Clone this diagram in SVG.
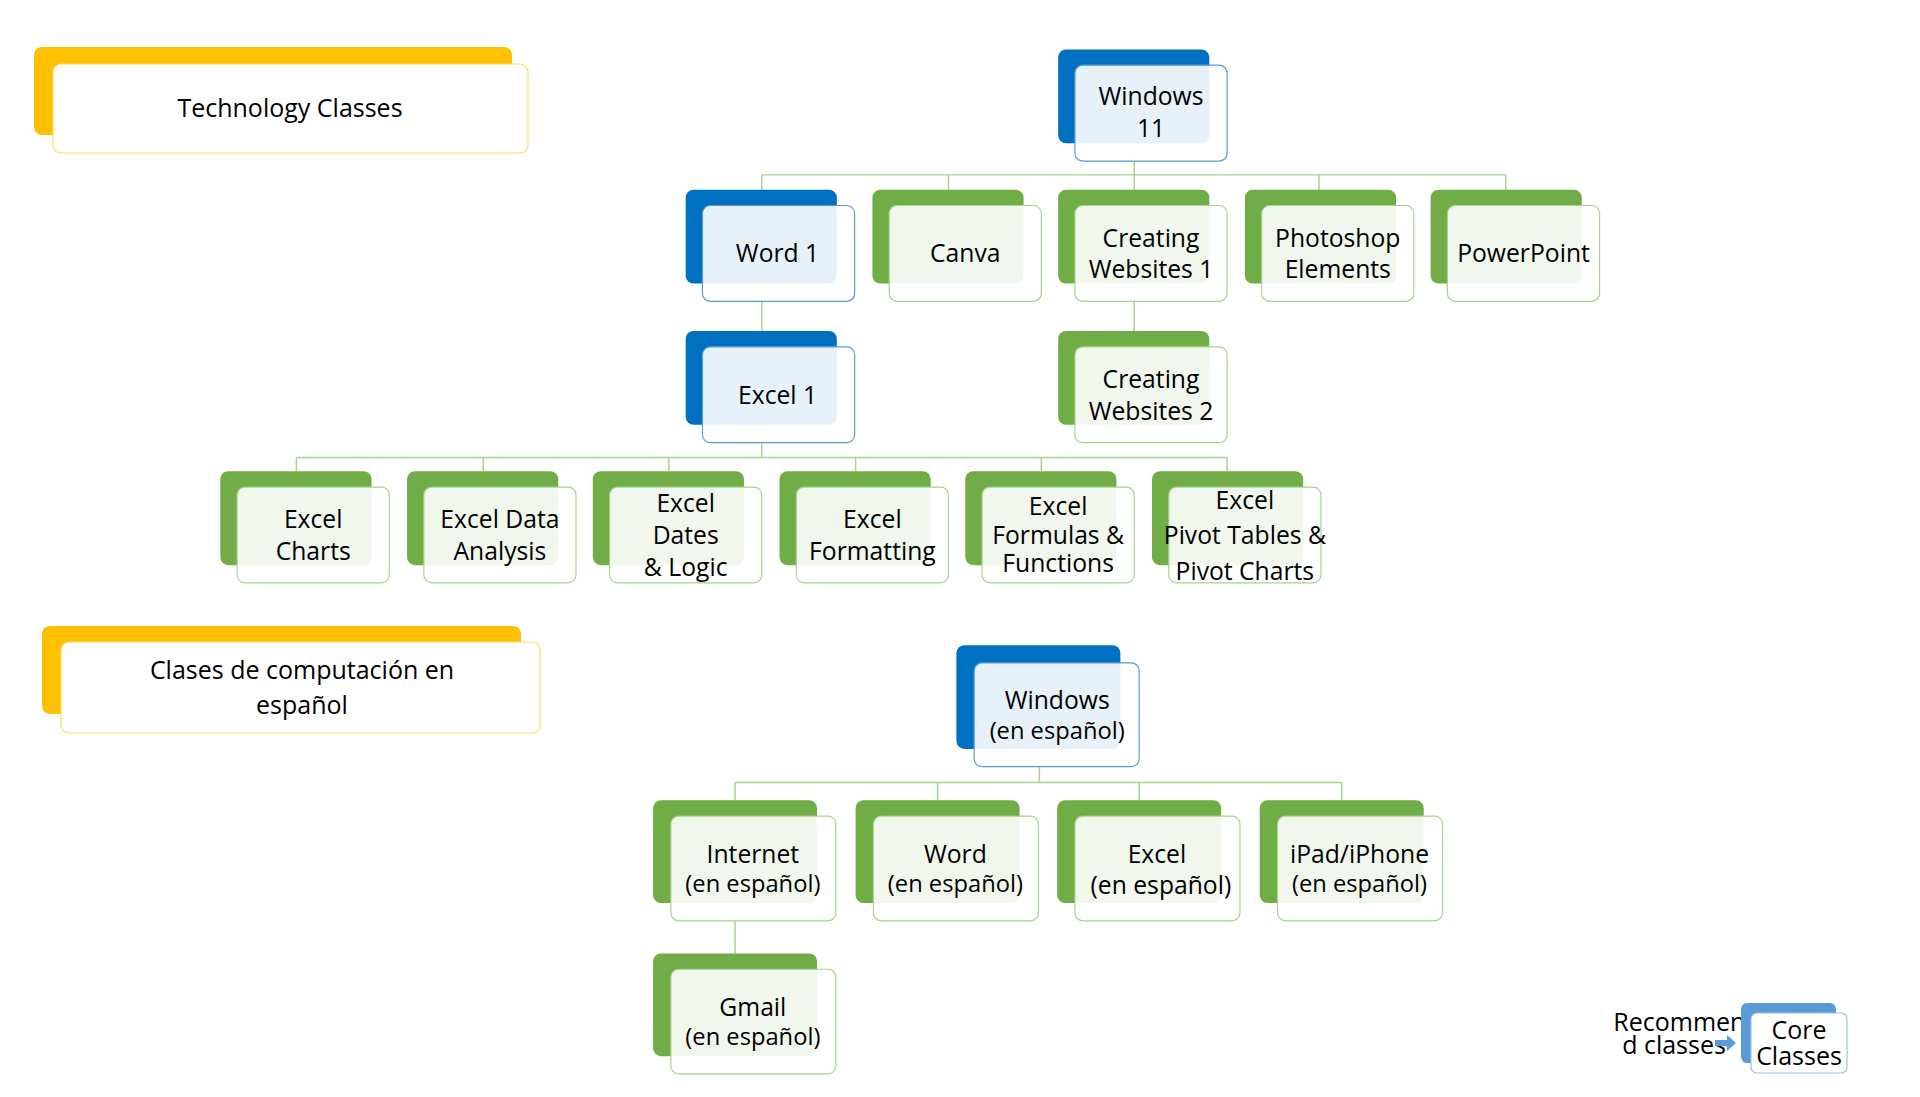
<svg xmlns="http://www.w3.org/2000/svg" width="1920" height="1097" viewBox="0 0 1920 1097">
<style>
text{font-family:"Open Sans","Noto Sans","Liberation Sans",sans-serif;fill:#000;text-anchor:middle;dominant-baseline:central;font-size:25px}
.bb{fill:#0070c0}.gb{fill:#70ad47}.yb{fill:#ffc000}
.bf{fill:#fff;fill-opacity:.9;stroke:#5b9bd5;stroke-width:1.2}
.gf{fill:#fff;fill-opacity:.9;stroke:#a9d18e;stroke-width:1.2}
.yf{fill:#fff;stroke:#ffd966;stroke-width:1.2}
.c{fill:none;stroke:#a9d18e;stroke-width:1.5}
.s{font-size:24px}
</style>
<g id="hdr-tech"><rect class="yb" x="34" y="47" width="478" height="88" rx="8"/><rect class="yf" x="53" y="64" width="475" height="89" rx="8"/><text x="290" y="107" font-size="31">Technology Classes</text></g>
<g id="hdr-es"><rect class="yb" x="42" y="626" width="479" height="88" rx="8"/><rect class="yf" x="61" y="642" width="479" height="91" rx="8"/><text x="302" y="669" font-size="35">Clases de computación en</text><text x="302" y="704" font-size="35">español</text></g>
<g transform="scale(0.988)">
<g id="connectors">
<path class="c" d="M1148 161V177M771 177H1524M771 177V192M960 177V192M1148 177V192M1335 177V192M1524 177V192"/>
<path class="c" d="M771 305V335M1148 305V335"/>
<path class="c" d="M771 448V463M300 463H1242M300 463V477M489 463V477M677 463V477M866 463V477M1054 463V477M1242 463V477"/>
<path class="c" d="M1052 776V792M744 792H1358M744 792V810M949 792V810M1153 792V810M1358 792V810M744 932V965"/>
</g>
<g id="win11"><rect class="bb" x="1071" y="50" width="153" height="95" rx="8"/><rect class="bf" x="1088" y="66" width="154" height="97" rx="8"/><text x="1165" y="97">Windows</text><text x="1165" y="129">11</text></g>
<g id="word1"><rect class="bb" x="694" y="192" width="153" height="95" rx="8"/><rect class="bf" x="711" y="208" width="154" height="97" rx="8"/><text x="787" y="256">Word 1</text></g>
<g id="canva"><rect class="gb" x="883" y="192" width="153" height="95" rx="8"/><rect class="gf" x="900" y="208" width="154" height="97" rx="8"/><text x="977" y="256">Canva</text></g>
<g id="cw1"><rect class="gb" x="1071" y="192" width="153" height="95" rx="8"/><rect class="gf" x="1088" y="208" width="154" height="97" rx="8"/><text x="1165" y="240">Creating</text><text x="1165" y="272">Websites 1</text></g>
<g id="pse"><rect class="gb" x="1260" y="192" width="153" height="95" rx="8"/><rect class="gf" x="1277" y="208" width="154" height="97" rx="8"/><text x="1354" y="240">Photoshop</text><text x="1354" y="272">Elements</text></g>
<g id="ppt"><rect class="gb" x="1448" y="192" width="153" height="95" rx="8"/><rect class="gf" x="1465" y="208" width="154" height="97" rx="8"/><text x="1542" y="256" font-size="20">PowerPoint</text></g>
<g id="excel1"><rect class="bb" x="694" y="335" width="153" height="95" rx="8"/><rect class="bf" x="711" y="351" width="154" height="97" rx="8"/><text x="787" y="399">Excel 1</text></g>
<g id="cw2"><rect class="gb" x="1071" y="335" width="153" height="95" rx="8"/><rect class="gf" x="1088" y="351" width="154" height="97" rx="8"/><text x="1165" y="383">Creating</text><text x="1165" y="415">Websites 2</text></g>
<g id="xcharts"><rect class="gb" x="223" y="477" width="153" height="95" rx="8"/><rect class="gf" x="240" y="493" width="154" height="97" rx="8"/><text x="317" y="525">Excel</text><text x="317" y="557">Charts</text></g>
<g id="xda"><rect class="gb" x="412" y="477" width="153" height="95" rx="8"/><rect class="gf" x="429" y="493" width="154" height="97" rx="8"/><text x="506" y="525">Excel Data</text><text x="506" y="557">Analysis</text></g>
<g id="xdl"><rect class="gb" x="600" y="477" width="153" height="95" rx="8"/><rect class="gf" x="617" y="493" width="154" height="97" rx="8"/><text x="694" y="509">Excel</text><text x="694" y="541">Dates</text><text x="694" y="573">&amp; Logic</text></g>
<g id="xfmt"><rect class="gb" x="789" y="477" width="153" height="95" rx="8"/><rect class="gf" x="806" y="493" width="154" height="97" rx="8"/><text x="883" y="525">Excel</text><text x="883" y="557">Formatting</text></g>
<g id="xff"><rect class="gb" x="977" y="477" width="153" height="95" rx="8"/><rect class="gf" x="994" y="493" width="154" height="97" rx="8"/><text x="1071" y="512" font-size="17.5">Excel</text><text x="1071" y="541" font-size="17.5">Formulas &amp;</text><text x="1071" y="569" font-size="17.5">Functions</text></g>
<g id="xpt"><rect class="gb" x="1166" y="477" width="153" height="95" rx="8"/><rect class="gf" x="1183" y="493" width="154" height="97" rx="8"/><text x="1260" y="506" font-size="13">Excel</text><text x="1260" y="541" font-size="13">Pivot Tables &amp;</text><text x="1260" y="577" font-size="13">Pivot Charts</text></g>
<g id="win-es"><rect class="bb" x="968" y="653" width="166" height="105" rx="8"/><rect class="bf" x="986" y="671" width="167" height="105" rx="8"/><text x="1070" y="708">Windows</text><text x="1070" y="739" class="s">(en español)</text></g>
<g id="inet-es"><rect class="gb" x="661" y="810" width="166" height="104" rx="8"/><rect class="gf" x="679" y="826" width="167" height="106" rx="8"/><text x="762" y="864">Internet</text><text x="762" y="894" class="s">(en español)</text></g>
<g id="word-es"><rect class="gb" x="866" y="810" width="166" height="104" rx="8"/><rect class="gf" x="884" y="826" width="167" height="106" rx="8"/><text x="967" y="864">Word</text><text x="967" y="894" class="s">(en español)</text></g>
<g id="excel-es"><rect class="gb" x="1070" y="810" width="166" height="104" rx="8"/><rect class="gf" x="1088" y="826" width="167" height="106" rx="8"/><text x="1171" y="864">Excel</text><text x="1175" y="895" font-size="21">(en español)</text></g>
<g id="ipad-es"><rect class="gb" x="1275" y="810" width="166" height="104" rx="8"/><rect class="gf" x="1293" y="826" width="167" height="106" rx="8"/><text x="1376" y="864">iPad/iPhone</text><text x="1376" y="894" class="s">(en español)</text></g>
<g id="gmail-es"><rect class="gb" x="661" y="965" width="166" height="104" rx="8"/><rect class="gf" x="679" y="981" width="167" height="106" rx="8"/><text x="762" y="1019">Gmail</text><text x="762" y="1049" class="s">(en español)</text></g>
</g>
<g id="legend">
<text x="1694" y="1021" font-size="14.5">Recommende</text><text x="1674" y="1044" font-size="14.5">d classes</text>
<path d="M1715 1040h12v-5l9 8-9 8v-5h-12z" fill="#5b9bd5"/>
<rect x="1741" y="1003" width="95" height="60" rx="6" fill="#5b9bd5"/>
<rect x="1751" y="1013" width="96" height="60" rx="6" fill="#fff" stroke="#9dc3e6" stroke-width="1.2"/>
<text x="1799" y="1029" font-size="20">Core</text><text x="1799" y="1055" font-size="20">Classes</text>
</g>
</svg>
